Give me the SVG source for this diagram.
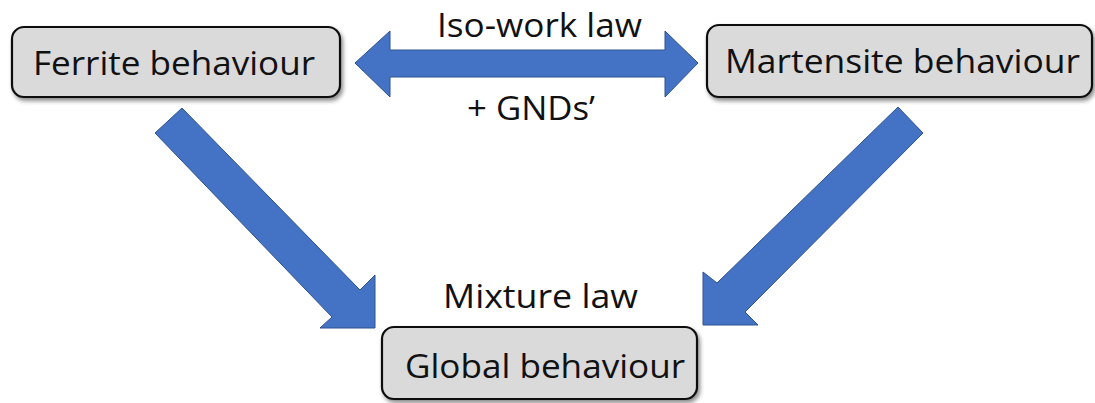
<svg xmlns="http://www.w3.org/2000/svg" width="1095" height="403" viewBox="0 0 1095 403">
<defs>
<filter id="sh" x="-10%" y="-20%" width="120%" height="150%">
<feDropShadow dx="2" dy="3" stdDeviation="2" flood-color="#000" flood-opacity="0.45"/>
</filter>
<style>
.box{fill:#dadada;stroke:#111;stroke-width:2.2;filter:url(#sh)}
.lbl{font-family:"Open Sans","Noto Sans",sans-serif;font-size:32px;fill:#111}
.arr{fill:#4472c4;stroke:#2f528f;stroke-width:1}
</style>
</defs>
<rect width="1095" height="403" fill="#fff"/>
<g id="connectors">
<polygon class="arr" points="355,63 390,31 390,50 665,50 665,31 698,63 665,97 665,77 390,77 390,97"/>
<polygon class="arr" points="155,133 182,108 360,290 375,275 375,328 320,328 332,317"/>
<polygon class="arr" points="923,133 898,107 717,283 703,272 703,325 758,325 745,312"/>
</g>
<g id="labels">
<text class="lbl" x="539.5" y="37" text-anchor="middle" textLength="205" lengthAdjust="spacingAndGlyphs">Iso-work law</text>
<text class="lbl" x="531" y="120" text-anchor="middle" textLength="128" lengthAdjust="spacingAndGlyphs">+ GNDs’</text>
<text class="lbl" x="540.5" y="308" text-anchor="middle" textLength="195" lengthAdjust="spacingAndGlyphs">Mixture law</text>
</g>
<g id="ferrite">
<rect class="box" x="12" y="27" width="328" height="70" rx="12"/>
<text class="lbl" x="174" y="75" text-anchor="middle" textLength="282" lengthAdjust="spacingAndGlyphs">Ferrite behaviour</text>
</g>
<g id="martensite">
<rect class="box" x="707" y="25" width="385" height="72" rx="12"/>
<text class="lbl" x="902.5" y="73" text-anchor="middle" textLength="355" lengthAdjust="spacingAndGlyphs">Martensite behaviour</text>
</g>
<g id="global">
<rect class="box" x="382" y="327" width="315" height="72" rx="12"/>
<text class="lbl" x="545" y="378" text-anchor="middle" textLength="280" lengthAdjust="spacingAndGlyphs">Global behaviour</text>
</g>
</svg>
